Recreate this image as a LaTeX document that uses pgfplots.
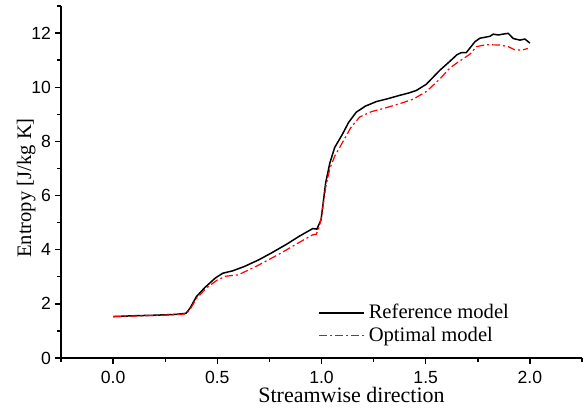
\documentclass[border=0pt]{standalone}
\usepackage{pgfplots}
\pgfplotsset{compat=1.18}
\usepackage{fontspec}
\setmainfont{Liberation Serif}
\newfontfamily\arialfont{Liberation Sans}
\begin{document}
\begin{tikzpicture}
\begin{axis}[
  scale only axis,
  width=260.5pt, height=176pt,
  xmin=-0.25, xmax=2.25, ymin=0, ymax=13,
  axis x line=bottom, axis y line=left,
  axis line style={-, line width=0.8pt},
  xtick={0,0.5,1,1.5,2},
  minor xtick={-0.25,0.25,0.75,1.25,1.75,2.25},
  ytick={0,2,4,6,8,10,12},
  minor ytick={1,3,5,7,9,11,13},
  tick align=outside,
  major tick length=3pt, minor tick length=1.8pt,
  tick style={line width=0.7pt, black},
  xticklabel style={/pgf/number format/fixed, /pgf/number format/fixed zerofill, /pgf/number format/precision=1},
  yticklabel style={xshift=1.5pt},
  /pgf/number format/assume math mode=true,
  ticklabel style={font=\arialfont\fontsize{8.8}{10}\selectfont},
  xlabel={Streamwise direction},
  ylabel={Entropy [J/kg K]},
  xlabel style={font=\fontsize{11}{13}\selectfont, yshift=5pt, xshift=15pt},
  ylabel style={font=\fontsize{10.3}{12}\selectfont, yshift=-9pt, xshift=-3pt},
  legend style={draw=none, fill=none, at={(0.493,0.165)}, anchor=north west,
    font=\fontsize{10.3}{12}\selectfont, row sep=-1.5pt, inner sep=0pt,
    /tikz/every even column/.append style={column sep=0pt}},
  legend cell align=left,
  legend image code/.code={\draw[#1] (0pt,0pt) -- (22.5pt,0pt);},
]
\addplot[black, line width=0.75pt] coordinates {
(0.0,1.53) (0.1,1.56) (0.2,1.58) (0.3,1.61) (0.35,1.65) (0.37,1.85) (0.40,2.27)
(0.44,2.6) (0.49,2.95) (0.526,3.13) (0.574,3.22) (0.63,3.38) (0.70,3.63)
(0.76,3.88) (0.83,4.19) (0.894,4.5) (0.958,4.78) (0.978,4.76) (0.998,5.11)
(1.02,6.47) (1.04,7.2) (1.063,7.77) (1.10,8.26) (1.13,8.7) (1.167,9.08)
(1.21,9.3) (1.263,9.47) (1.32,9.58) (1.375,9.70) (1.42,9.79) (1.455,9.88)
(1.503,10.11) (1.567,10.62) (1.615,10.95) (1.65,11.2) (1.671,11.28) (1.695,11.28)
(1.736,11.68) (1.76,11.81) (1.808,11.88) (1.824,11.96) (1.848,11.93) (1.87,11.96)
(1.896,11.99) (1.92,11.8) (1.952,11.74) (1.976,11.78) (2.0,11.63)
};
\addlegendentry{Reference model}
\addplot[red, line width=0.6pt, dash pattern=on 4pt off 1.5pt on 1pt off 1.5pt] coordinates {
(0.0,1.53) (0.1,1.55) (0.2,1.57) (0.3,1.6) (0.35,1.63) (0.37,1.8) (0.40,2.2)
(0.45,2.6) (0.5,2.88) (0.54,3.02) (0.6,3.07) (0.65,3.25) (0.70,3.44)
(0.8,3.85) (0.9,4.3) (0.958,4.55) (0.975,4.57) (0.99,4.86) (1.0,5.2)
(1.02,6.3) (1.04,7.0) (1.063,7.45) (1.10,7.95) (1.14,8.5) (1.183,8.9)
(1.24,9.1) (1.295,9.21) (1.37,9.38) (1.44,9.56) (1.503,9.84)
(1.567,10.3) (1.615,10.7) (1.65,10.9) (1.695,11.13) (1.712,11.22)
(1.744,11.5) (1.79,11.57) (1.856,11.56) (1.896,11.5) (1.928,11.38) (1.96,11.37) (1.99,11.43)
};
\addlegendentry{Optimal model}
\end{axis}
\pgfresetboundingbox
\path[use as bounding box] (-30.5pt,-24.5pt) rectangle (263.5pt,179pt);
\end{tikzpicture}
\end{document}
